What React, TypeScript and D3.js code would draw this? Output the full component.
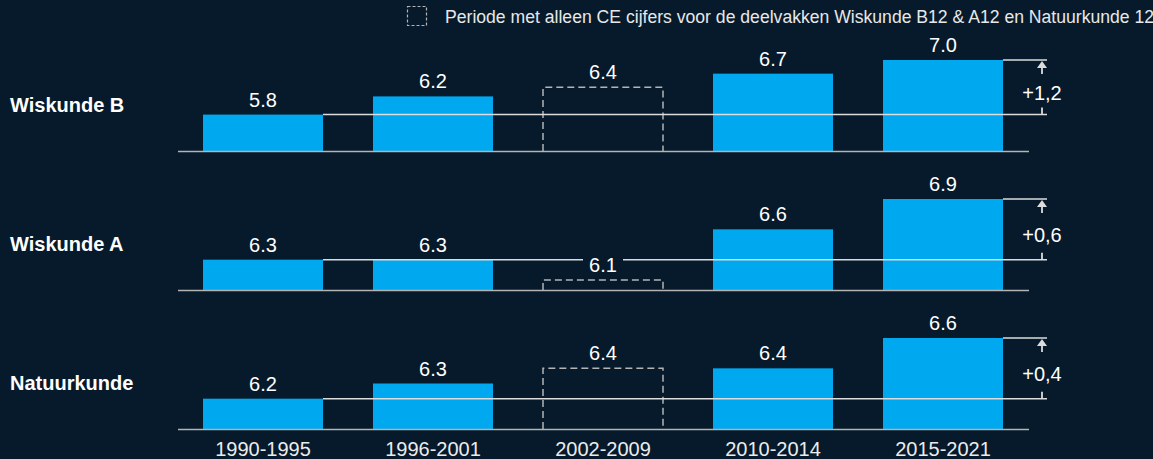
import React from 'react';
import * as d3 from 'd3';

const periods = ['1990-1995', '1996-2001', '2002-2009', '2010-2014', '2015-2021'];
const subjects = ['Wiskunde B', 'Wiskunde A', 'Natuurkunde'];
const wiskundeB = [5.8, 6.2, 6.4, 6.7, 7.0];
const wiskundeA = [6.3, 6.3, 6.1, 6.6, 6.9];
const natuurkunde = [6.2, 6.3, 6.4, 6.4, 6.6];
// periode waarin alleen CE cijfers voor de deelvakken bestaan
const ceOnly = [false, false, true, false, false];
// onderkant van de y-as per vak
const axisBase = [5.0, 6.0, 6.0];
const legendText = 'Periode met alleen CE cijfers voor de deelvakken Wiskunde B12 & A12 en Natuurkunde 12';

const series = [wiskundeB, wiskundeA, natuurkunde];

const W = 1153;
const H = 459;
const BG = '#061a2b';
const BAR = '#00a8f0';
const LINE = '#dcdcdc';
const DASH = '#b4b4b4';
const FONT = '"Liberation Sans", Arial, sans-serif';

const panelBaselines = [151, 290, 429];
const barMaxHeight = 91;
const deltaX = 1042;
const lineEnd = 1047;

const x = d3.scaleBand<string>()
  .domain(periods)
  .range([178, 1028])
  .paddingInner(50 / 170)
  .paddingOuter(25 / 170);

const fmtDelta = (v: number) => '+' + d3.format('.1f')(v).replace('.', ',');

const Panel = ({ idx }: { idx: number }) => {
  const values = series[idx];
  const base = panelBaselines[idx];
  const y = d3.scaleLinear()
    .domain([axisBase[idx], d3.max(values) as number])
    .range([base, base - barMaxHeight]);

  const first = values[0];
  const last = values[values.length - 1];
  const refY = y(first);
  const topY = y(last);
  const lastX = (x(periods[periods.length - 1]) as number) + x.bandwidth();
  const refStart = (x(periods[0]) as number) + x.bandwidth();
  const mid = (refY + topY) / 2;

  return (
    <g>
      <text x={10} y={base - 39} fill="#ffffff" fontSize={20} fontWeight="bold" fontFamily={FONT}>
        {subjects[idx]}
      </text>

      {values.map((v, i) => {
        const bx = x(periods[i]) as number;
        const by = y(v);
        return ceOnly[i] ? (
          <path
            key={i}
            d={`M${bx},${base} V${by} H${bx + x.bandwidth()} V${base}`}
            fill="none"
            stroke={DASH}
            strokeWidth={1.5}
            strokeDasharray="7,4"
          />
        ) : (
          <rect key={i} x={bx} y={by} width={x.bandwidth()} height={base - by} fill={BAR} />
        );
      })}

      {/* baseline */}
      <line x1={178} x2={1029} y1={base + 0.5} y2={base + 0.5} stroke={DASH} strokeWidth={1.5} />

      {/* reference line at first value */}
      <line x1={refStart} x2={lineEnd} y1={refY} y2={refY} stroke={LINE} strokeWidth={1.5} />
      <line x1={lastX} x2={lineEnd} y1={topY} y2={topY} stroke={LINE} strokeWidth={1.5} />

      {/* delta arrow */}
      <line x1={deltaX} x2={deltaX} y1={topY + 6} y2={topY + 14} stroke={LINE} strokeWidth={1.8} />
      <path d={`M${deltaX},${topY + 1} L${deltaX - 5},${topY + 8} L${deltaX + 5},${topY + 8} Z`} fill={LINE} />
      <line x1={deltaX} x2={deltaX} y1={refY - 7} y2={refY} stroke={LINE} strokeWidth={1.8} />
      <text x={deltaX} y={mid + 13} textAnchor="middle" fill="#ffffff" fontSize={20} fontFamily={FONT}>
        {fmtDelta(last - first)}
      </text>

      {values.map((v, i) => {
        const cx = (x(periods[i]) as number) + x.bandwidth() / 2;
        const ty = y(v) - 8;
        const label = d3.format('.1f')(v);
        const crossesRef = ty - 14 <= refY && ty >= refY && i > 0;
        return (
          <g key={i}>
            {crossesRef && <rect x={cx - 20} y={refY - 2} width={40} height={4} fill={BG} />}
            <text x={cx} y={ty} textAnchor="middle" fill="#ffffff" fontSize={20} fontFamily={FONT}>
              {label}
            </text>
          </g>
        );
      })}
    </g>
  );
};

export default function App() {
  return (
    <svg
      width={W}
      height={H}
      style={{ position: 'absolute', left: 0, top: 0, background: BG, display: 'block' }}
    >
      <rect x={0} y={0} width={W} height={H} fill={BG} />

      <rect x={407.5} y={6.5} width={19} height={19} fill="none" stroke={DASH} strokeWidth={1.2} strokeDasharray="3,2" />
      <text x={445} y={23} fill="#e8e8e8" fontSize={17.6} fontFamily={FONT}>
        {legendText}
      </text>

      {subjects.map((_, i) => (
        <Panel key={i} idx={i} />
      ))}

      {periods.map((p) => (
        <text
          key={p}
          x={(x(p) as number) + x.bandwidth() / 2}
          y={456}
          textAnchor="middle"
          fill="#ececec"
          fontSize={20}
          fontFamily={FONT}
        >
          {p}
        </text>
      ))}
    </svg>
  );
}
